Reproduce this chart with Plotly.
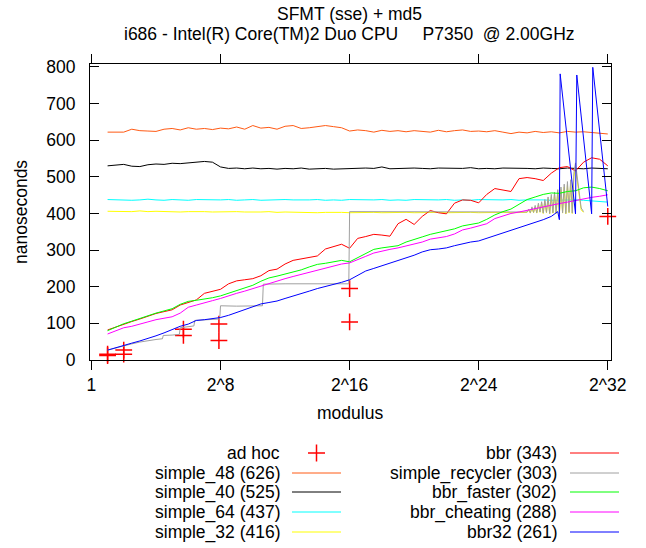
import plotly.graph_objects as go

# ---------------- data (x = log2 of modulus, y = nanoseconds) ----------------
GRID = [1.0 + 0.5 * i for i in range(63)]          # 1 .. 32 bits, half-bit steps

SIMPLE_48 = [622, 623, 622, 630, 626, 625, 624, 630, 632, 628,
             634, 630, 632, 629, 633, 631, 636, 630, 640, 633,
             635, 630, 638, 640, 632, 634, 636, 640, 637, 634,
             625, 628, 626, 622, 627, 624, 626, 623, 626, 624,
             622, 627, 623, 626, 628, 624, 625, 623, 626, 622,
             618, 622, 620, 624, 621, 623, 620, 624, 622, 623,
             621, 620, 617]

SIMPLE_40 = [530, 532, 534, 529, 528, 533, 535, 534, 537, 536,
             538, 539, 542, 540, 527, 523, 524, 522, 524, 522,
             523, 521, 523, 522, 524, 521, 522, 523, 521, 522,
             523, 522, 524, 523, 527, 522, 523, 522, 524, 523,
             522, 524, 523, 522, 523, 525, 522, 523, 522, 524,
             523, 522, 523, 522, 524, 523, 522, 524, 523, 522,
             524, 523, 522]

SIMPLE_64 = [438, 437, 438, 436, 437, 439, 437, 436, 438, 437,
             436, 438, 437, 436, 437, 438, 436, 437, 438, 436,
             437, 436, 438, 437, 436, 437, 438, 436, 437, 436,
             438, 437, 436, 437, 438, 436, 437, 436, 438, 437,
             436, 437, 438, 436, 437, 436, 438, 437, 436, 437,
             438, 436, 437, 438, 437, 436, 437, 438, 437, 436,
             435, 433, 431]

ZIG_BITS = [27.0, 27.1, 27.2, 27.3, 27.4, 27.5, 27.6, 27.7, 27.8, 27.9,
            28.0, 28.1, 28.2, 28.3, 28.4, 28.5, 28.6, 28.7, 28.8, 28.9,
            29.0, 29.1, 29.2, 29.3, 29.4, 29.5, 29.6, 29.7, 29.8, 29.9,
            30.0, 30.35, 30.5]

SIMPLE_32_BITS = GRID[:52] + ZIG_BITS
SIMPLE_32 = [406, 405, 406, 405, 407, 405, 406, 405, 406, 404,
             405, 406, 405, 404, 405, 404, 405, 404, 403, 404,
             405, 403, 404, 403, 404, 403, 402, 403, 404, 403,
             402, 403, 404, 403, 402, 403, 404, 403, 402, 403,
             404, 403, 402, 403, 404, 403, 402, 403, 404, 403,
             402, 403,
             403, 409, 401, 414, 402, 418, 401, 423, 403, 428,
             400, 433, 402, 440, 399, 446, 401, 452, 400, 458,
             399, 465, 401, 472, 399, 478, 402, 485, 400, 500,
             525, 410, 403]

BBR = [82, 90, 99, 105, 112, 120, 127, 132, 137, 150,
       158, 164, 182, 188, 193, 208, 216, 219, 222, 230,
       244, 248, 262, 272, 276, 280, 284, 303, 309, 316,
       305, 332, 337, 343, 341, 338, 372, 384, 370, 392,
       408, 402, 399, 428, 437, 436, 429, 452, 468, 465,
       460, 495, 498, 495, 490, 510, 525, 528, 516, 540,
       552, 548, 530]

RECYCLER_BITS = [1.0, 1.5, 2.0, 2.5, 3.0, 3.5, 4.0, 4.4, 4.45, 5.0,
                 5.45, 5.5, 6.0, 6.35, 6.4, 7.0, 7.95, 8.0, 9.0, 10.6,
                 10.65, 12.0, 14.0, 15.95, 16.0, 20.0, 24.0, 26.9] + ZIG_BITS
RECYCLER = [27, 33, 40, 44, 49, 53, 56, 58, 67, 68,
            70, 88, 91, 93, 108, 110, 112, 148, 147, 148,
            207, 208, 207, 208, 405, 405, 404, 404,
            404, 412, 402, 418, 403, 422, 402, 428, 404, 432,
            401, 438, 403, 445, 400, 452, 402, 458, 401, 465,
            400, 472, 402, 480, 400, 487, 403, 492, 401, 510,
            538, 415, 405]

BBR_FASTER = [80, 90, 99, 106, 114, 122, 128, 134, 140, 152,
              160, 163, 166, 170, 175, 182, 190, 196, 204, 215,
              224, 229, 234, 240, 246, 254, 261, 264, 267, 272,
              268, 280, 290, 302, 306, 308, 312, 322, 328, 336,
              343, 348, 351, 358, 366, 370, 374, 384, 396, 405,
              412, 425, 438, 445, 452, 456, 455, 460, 462, 470,
              472, 468, 462]

BBR_CHEATING = [71, 80, 88, 92, 97, 104, 110, 114, 118, 128,
                144, 150, 155, 162, 168, 176, 182, 188, 195, 203,
                210, 216, 222, 228, 234, 240, 246, 252, 257, 262,
                265, 275, 283, 292, 298, 302, 306, 311, 316, 322,
                330, 334, 337, 344, 355, 360, 365, 372, 386, 394,
                400, 404, 409, 413, 418, 423, 427, 431, 436, 440,
                444, 447, 451]

BBR32_BITS = GRID[:56] + [28.9, 29.0, 29.05, 30.0, 30.08, 31.0, 31.07, 32.0]
BBR32 = [27, 34, 41, 46, 52, 58, 66, 74, 84, 92,
         98, 108, 110, 113, 116, 122, 130, 138, 146, 153,
         157, 161, 168, 174, 182, 188, 195, 200, 206, 212,
         219, 232, 243, 250, 257, 264, 271, 278, 286, 295,
         301, 303, 306, 312, 318, 322, 325, 332, 340, 347,
         355, 362, 368, 375, 383, 392,
         405, 383, 781, 399, 778, 399, 799, 419]

ADHOC_BITS = [1, 1, 2, 2, 5.7, 5.7, 7.9, 7.9, 16, 16, 32]
ADHOC_NS = [12, 16, 27, 16, 84, 67, 98, 53, 195, 104, 392]

TICK_BITS = [0, 8, 16, 24, 32]
TICK_TEXT = ["1", "2^8", "2^16", "2^24", "2^32"]

LEFT_LEGEND = [("simple_48 (626)", "#ff5a14"), ("simple_40 (525)", "#000000"),
               ("simple_64 (437)", "#00ffff"), ("simple_32 (416)", "#ffff00")]
RIGHT_LEGEND = [("bbr (343)", "#ff0000"), ("simple_recycler (303)", "#a0a0a0"),
                ("bbr_faster (302)", "#00ff00"), ("bbr_cheating (288)", "#ff00ff"),
                ("bbr32 (261)", "#0000ff")]

# ---------------- figure ----------------
FONT = "Liberation Sans, Arial, sans-serif"
FS = 17.5
W, H = 646, 548
L, R, T, B = 90, 35, 64, 188
PW, PH = W - L - R, H - T - B


def px(x):
    return (x - L) / PW


def py(y):
    return (H - B - y) / PH


fig = go.Figure()

fig.add_trace(go.Scatter(x=ADHOC_BITS, y=ADHOC_NS, mode="markers", name="ad hoc",
                         cliponaxis=False,
                         marker=dict(symbol="cross-thin", size=12,
                                     line=dict(color="#ff0000", width=1.5))))

series = [
    (GRID, SIMPLE_48, "#ff5a14"),
    (GRID, SIMPLE_40, "#000000"),
    (GRID, SIMPLE_64, "#00ffff"),
    (SIMPLE_32_BITS, SIMPLE_32, "#ffff00"),
    (GRID, BBR, "#ff0000"),
    (RECYCLER_BITS, RECYCLER, "#a0a0a0"),
    (GRID, BBR_FASTER, "#00ff00"),
    (GRID, BBR_CHEATING, "#ff00ff"),
    (BBR32_BITS, BBR32, "#0000ff"),
]
for xs, ys, col in series:
    fig.add_trace(go.Scatter(x=xs, y=ys, mode="lines",
                             line=dict(color=col, width=1)))

annotations = [
    dict(text="SFMT (sse) + md5", x=px(349), y=py(14)),
    dict(text="i686 - Intel(R) Core(TM)2 Duo CPU     P7350  @ 2.00GHz", x=px(349), y=py(34)),
    dict(text="modulus", x=px(350), y=py(413)),
    dict(text="nanoseconds", x=px(21), y=py(212), textangle=-90),
]
for a in annotations:
    a.update(xref="paper", yref="paper", showarrow=False,
             xanchor="center", yanchor="middle",
             font=dict(family=FONT, size=FS, color="#000000"))
    fig.add_annotation(**a)

shapes = []
ROW_Y = [453, 473, 492, 512, 532]
# left column: ad hoc + simple_*
fig.add_annotation(text="ad hoc", x=px(282), y=py(ROW_Y[0]), xref="paper", yref="paper",
                   showarrow=False, xanchor="right", yanchor="middle",
                   font=dict(family=FONT, size=FS, color="#000000"))
shapes.append(dict(type="line", xref="paper", yref="paper", x0=px(308), x1=px(325),
                   y0=py(ROW_Y[0]), y1=py(ROW_Y[0]), line=dict(color="#ff0000", width=1.5)))
shapes.append(dict(type="line", xref="paper", yref="paper", x0=px(316.5), x1=px(316.5),
                   y0=py(ROW_Y[0] - 8.5), y1=py(ROW_Y[0] + 8.5), line=dict(color="#ff0000", width=1.5)))
for i, (name, col) in enumerate(LEFT_LEGEND):
    yy = ROW_Y[i + 1]
    fig.add_annotation(text=name, x=px(282), y=py(yy), xref="paper", yref="paper",
                       showarrow=False, xanchor="right", yanchor="middle",
                       font=dict(family=FONT, size=FS, color="#000000"))
    shapes.append(dict(type="line", xref="paper", yref="paper", x0=px(292), x1=px(341),
                       y0=py(yy), y1=py(yy), line=dict(color=col, width=1)))
for i, (name, col) in enumerate(RIGHT_LEGEND):
    yy = ROW_Y[i]
    fig.add_annotation(text=name, x=px(559), y=py(yy), xref="paper", yref="paper",
                       showarrow=False, xanchor="right", yanchor="middle",
                       font=dict(family=FONT, size=FS, color="#000000"))
    shapes.append(dict(type="line", xref="paper", yref="paper", x0=px(570), x1=px(619),
                       y0=py(yy), y1=py(yy), line=dict(color=col, width=1)))

fig.update_layout(
    width=W, height=H,
    margin=dict(l=L, r=R, t=T, b=B, pad=0),
    paper_bgcolor="#ffffff", plot_bgcolor="#ffffff",
    showlegend=False,
    shapes=shapes,
    font=dict(family=FONT, size=FS, color="#000000"),
    xaxis=dict(range=[-0.09, 32.2], tickmode="array", tickvals=TICK_BITS, ticktext=TICK_TEXT,
               showgrid=False, zeroline=False, showline=True, linecolor="#000000", linewidth=1,
               mirror="ticks", ticks="outside", ticklen=9, tickcolor="#000000", tickwidth=1,
               tickfont=dict(family=FONT, size=FS, color="#000000")),
    yaxis=dict(range=[0, 808], tickmode="array", tickvals=[0, 100, 200, 300, 400, 500, 600, 700, 800],
               showgrid=False, zeroline=False, showline=True, linecolor="#000000", linewidth=1,
               mirror="ticks", ticks="inside", ticklen=9, tickcolor="#000000", tickwidth=1,
               ticklabelstandoff=10,
               tickfont=dict(family=FONT, size=FS, color="#000000")),
)

fig.write_html("out.html")
